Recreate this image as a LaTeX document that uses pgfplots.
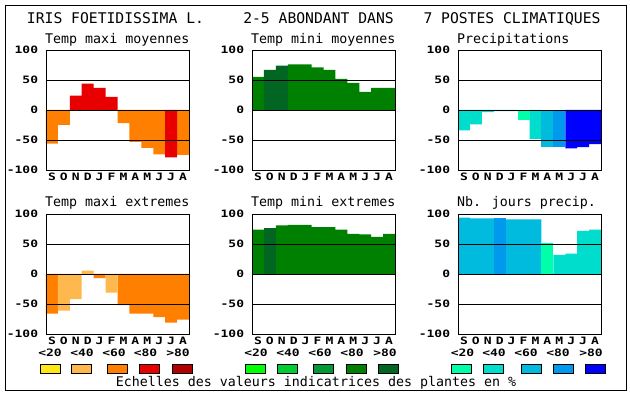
\documentclass[border=0pt]{standalone}
\usepackage{pgfplots}
\pgfplotsset{compat=1.18}
\usepackage{fontspec}
\newfontfamily\mono{DejaVu Sans Mono}
\newcommand\tlfont{\fontsize{13}{13}\selectfont\mono\bfseries}
\newcommand\tl[1]{\scalebox{1}[0.78]{#1}}
\definecolor{cY}{HTML}{FFE619}
\definecolor{cLO}{HTML}{FFB84D}
\definecolor{cO}{HTML}{FF8000}
\definecolor{cR}{HTML}{E80000}
\definecolor{cDR}{HTML}{B00000}
\definecolor{g1}{HTML}{00FF00}
\definecolor{g2}{HTML}{00CC33}
\definecolor{g3}{HTML}{009933}
\definecolor{g4}{HTML}{008000}
\definecolor{g5}{HTML}{006622}
\definecolor{b1}{HTML}{00FFAA}
\definecolor{b2}{HTML}{00DDCC}
\definecolor{b3}{HTML}{00BBDD}
\definecolor{b4}{HTML}{0099EE}
\definecolor{b5}{HTML}{0000FF}
\pgfplotsset{
  panel/.style={
    scale only axis, width=143pt, height=120pt,
    xmin=-0.5, xmax=11.5, ymin=-100, ymax=100,
    ytick={-100,-50,0,50,100},
    yticklabels={\tl{-100},\tl{-50},\tl{0},\tl{50},\tl{100}},
    xtick={0,...,11},
    xticklabels={\tl{S},\tl{O},\tl{N},\tl{D},\tl{J},\tl{F},\tl{M},\tl{A},\tl{M},\tl{J},\tl{J},\tl{A}},
    major tick length=0pt,
    ymajorgrids, grid style={black, line width=0.9pt},
    axis line style={line width=0.9pt},
    axis on top,
    yticklabel style={anchor=east, inner sep=0pt, xshift=-7.7pt},
    xticklabel style={anchor=base, inner sep=0pt, yshift=-11pt},
    tick label style={font=\tlfont},
  },
  bars/.style={ybar, bar width=1, bar shift=0pt, draw=none, fill=#1},
}
\begin{document}
\begin{tikzpicture}
\path[use as bounding box, fill=white] (0pt,0pt) rectangle (630pt,394pt);
\draw[line width=0.9pt] (5pt,4pt) rectangle (626pt,389pt);
% titles
\node[anchor=base, inner sep=0pt, font=\fontsize{14.7}{15}\selectfont\mono] at (115.5pt,370.5pt) {IRIS FOETIDISSIMA L.};
\node[anchor=base, inner sep=0pt, font=\fontsize{14.7}{15}\selectfont\mono] at (318.5pt,370.5pt) {2-5 ABONDANT DANS};
\node[anchor=base, inner sep=0pt, font=\fontsize{14.7}{15}\selectfont\mono] at (512pt,370.5pt) {7 POSTES CLIMATIQUES};
% subtitles
\begin{scope}[every node/.style={anchor=base west, inner sep=0pt, font=\fontsize{13.3}{14}\selectfont\mono}]
\node at (45pt,350.5pt) {Temp maxi moyennes};
\node at (251pt,350.5pt) {Temp mini moyennes};
\node at (457pt,350.5pt) {Precipitations};
\node at (45pt,187pt) {Temp maxi extremes};
\node at (251pt,187pt) {Temp mini extremes};
\node at (457pt,187pt) {Nb. jours precip.};
\end{scope}

% Panel 1: Temp maxi moyennes
\begin{axis}[panel, at={(46pt,224pt)}, anchor=south west]
\addplot[bars=cO] coordinates {(0,-56) (1,-25) (6,-22) (7,-53) (8,-63) (9,-74) (11,-75)};
\addplot[bars=cR] coordinates {(2,24) (3,44) (4,37) (5,22) (10,-79)};
\end{axis}
% Panel 2: Temp mini moyennes
\begin{axis}[panel, at={(252pt,224pt)}, anchor=south west]
\addplot[bars=g4] coordinates {(0,55) (3,76) (4,76) (5,71) (6,67) (7,52) (8,45) (9,30) (10,37) (11,37)};
\addplot[bars=g5] coordinates {(1,67) (2,74)};
\end{axis}
% Panel 3: Precipitations
\begin{axis}[panel, at={(458pt,224pt)}, anchor=south west]
\addplot[bars=b2] coordinates {(0,-34) (1,-24) (2,-3.5) (3,-2) (4,-2) (6,-48)};
\addplot[bars=b1] coordinates {(5,-17)};
\addplot[bars=b3] coordinates {(7,-62)};
\addplot[bars=b4] coordinates {(8,-61)};
\addplot[bars=b5] coordinates {(9,-64) (10,-62) (11,-57)};
\end{axis}
% Panel 4: Temp maxi extremes
\begin{axis}[panel, at={(46pt,60pt)}, anchor=south west]
\addplot[bars=cO] coordinates {(0,-66) (4,-7) (6,-52) (7,-66) (8,-66) (9,-72) (10,-81) (11,-76)};
\addplot[bars=cLO] coordinates {(1,-61) (2,-42) (3,5.5) (5,-31)};
\end{axis}
% Panel 5: Temp mini extremes
\begin{axis}[panel, at={(252pt,60pt)}, anchor=south west]
\addplot[bars=g4] coordinates {(0,74) (2,81) (3,82) (4,82) (5,78) (6,78) (7,74) (8,67) (9,66) (10,62) (11,67)};
\addplot[bars=g5] coordinates {(1,76)};
\end{axis}
% Panel 6: Nb. jours precip.
\begin{axis}[panel, at={(458pt,60pt)}, anchor=south west]
\addplot[bars=b3] coordinates {(0,94) (1,92.5) (2,92.5) (4,91) (5,91) (6,91)};
\addplot[bars=b4] coordinates {(3,92.5)};
\addplot[bars=b1] coordinates {(7,52)};
\addplot[bars=b2] coordinates {(8,32) (9,34) (10,72) (11,74)};
\end{axis}

% legend labels
\begin{scope}[every node/.style={anchor=base, inner sep=0pt, font=\fontsize{13}{13}\selectfont\mono\bfseries}]
\foreach \x/\t in {50/<20, 82/<40, 114/<60, 145.5/<80, 178/>80,
                   256/<20, 288/<40, 320/<60, 352/<80, 385/>80,
                   462.5/<20, 494/<40, 526/<60, 558/<80, 591/>80}
  \node at (\x pt,37pt) {\tl{\t}};
\end{scope}
% legend boxes
\foreach \x/\c in {50/cY, 81/cLO, 117/cO, 149/cR, 182/cDR,
                   255/g1, 287/g2, 323/g3, 356/g4, 388/g5,
                   461/b1, 493/b2, 531/b3, 563/b4, 595/b5}
  \draw[line width=0.9pt, fill=\c] (\x pt-10pt,21pt) rectangle (\x pt+10pt,30pt);
\node[anchor=base, inner sep=0pt, font=\fontsize{13.3}{14}\selectfont\mono] at (316pt,7.5pt) {Echelles des valeurs indicatrices des plantes en \%};
\end{tikzpicture}
\end{document}
